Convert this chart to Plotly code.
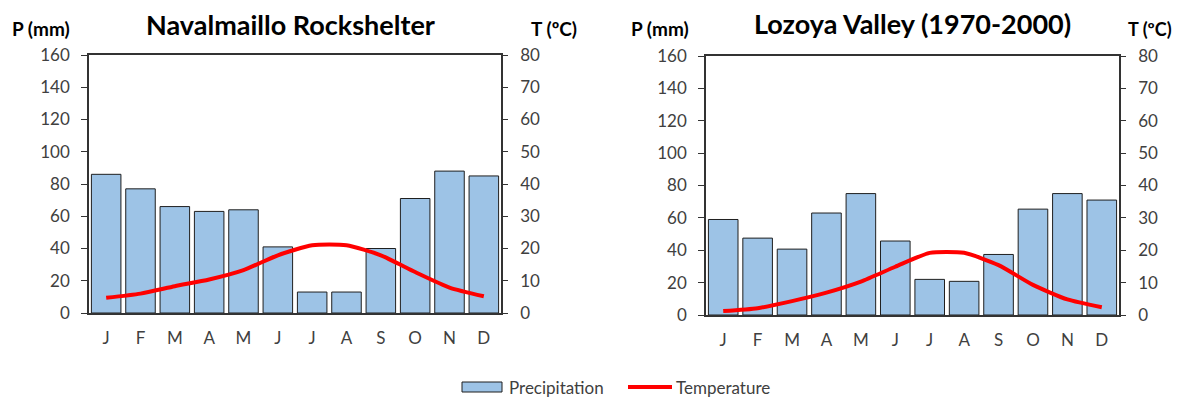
import plotly.graph_objects as go

months = ["J", "F", "M", "A", "M", "J", "J", "A", "S", "O", "N", "D"]
month_ids = list(range(12))

nav_precip = [86, 77, 66, 63, 64, 41, 13, 13, 40, 71, 88, 85]
nav_temp = [4.7, 6.0, 8.3, 10.4, 13.3, 17.9, 21.0, 21.0, 17.9, 12.7, 7.9, 5.2]

loz_precip = [59, 47.5, 40.7, 63, 75, 45.7, 22, 20.8, 37.4, 65.4, 75, 71]
loz_temp = [1.2, 2.1, 4.3, 6.9, 10.3, 14.9, 19.2, 19.2, 15.4, 9.3, 4.8, 2.4]

titles = ["Navalmaillo Rockshelter", "Lozoya Valley (1970-2000)"]
series_names = ["Precipitation", "Temperature"]

# page geometry: the body has an 8px margin, so the figure sits at (8, 8)
OFF = 8
W, H = 1183 - OFF, 397 - OFF
FONT = "Lato, Carlito, Calibri, sans-serif"
BAR_COLOR = "#9DC3E6"
LINE_COLOR = "#FF0000"
TEXT_COLOR = "#404040"


def px_x(x):
    return (x - OFF) / W


def px_y(y):
    return 1 - (y - OFF) / H


fig = go.Figure()

panels = [
    dict(prec=nav_precip, temp=nav_temp, x0=89, x1=501, y0=55, y1=313, xa="x", ya="y", ya2="y2"),
    dict(prec=loz_precip, temp=loz_temp, x0=706, x1=1119, y0=56, y1=315, xa="x2", ya="y3", ya2="y4"),
]

for i, p in enumerate(panels):
    fig.add_trace(go.Bar(
        x=month_ids, y=p["prec"], xaxis=p["xa"], yaxis=p["ya"],
        marker=dict(color=BAR_COLOR, line=dict(color="#1f1f1f", width=1)),
        name=series_names[0], showlegend=False,
    ))
    fig.add_trace(go.Scatter(
        x=month_ids, y=p["temp"], xaxis=p["xa"], yaxis=p["ya2"],
        mode="lines", line=dict(color=LINE_COLOR, width=4, shape="spline", smoothing=0.6),
        name=series_names[1], showlegend=False,
    ))

axis_font = dict(family=FONT, size=17, color=TEXT_COLOR)

layout = dict(
    width=W, height=H,
    margin=dict(l=0, r=0, t=0, b=0, autoexpand=False),
    paper_bgcolor="white", plot_bgcolor="white",
    bargap=0.14,
    showlegend=False,
    annotations=[],
    shapes=[],
)

for i, p in enumerate(panels):
    xkey = "xaxis" if i == 0 else "xaxis2"
    ykey = "yaxis" if i == 0 else "yaxis3"
    y2key = "yaxis2" if i == 0 else "yaxis4"
    ydom = [px_y(p["y1"]), px_y(p["y0"])]
    layout[xkey] = dict(
        domain=[px_x(p["x0"]), px_x(p["x1"])], anchor=p["ya"],
        range=[-0.5, 11.5], tickmode="array", tickvals=month_ids, ticktext=months,
        showline=True, linecolor="#333333", linewidth=1.5, mirror=True,
        ticks="", tickfont=axis_font, showgrid=False, zeroline=False,
        ticklabelstandoff=9,
    )
    layout[ykey] = dict(
        domain=ydom, anchor=p["xa"], range=[0, 160], dtick=20,
        showline=True, linecolor="#333333", linewidth=1.5,
        ticks="outside", ticklen=6, tickcolor="#333333",
        tickfont=axis_font, showgrid=False, zeroline=False, ticklabelstandoff=8,
    )
    layout[y2key] = dict(
        domain=ydom, anchor=p["xa"], overlaying=p["ya"], side="right", range=[0, 80], dtick=10,
        showline=True, linecolor="#333333", linewidth=1.5,
        ticks="outside", ticklen=5, tickcolor="#333333",
        tickfont=axis_font, showgrid=False, zeroline=False, ticklabelstandoff=9,
    )

title_centers = [(290, 25), (912, 24)]
pmm_pos = [(41, 29), (660, 29)]
tc_pos = [(554, 29), (1150, 29)]

for i in range(2):
    cx, cy = title_centers[i]
    layout["annotations"].append(dict(
        text="<b>" + titles[i] + "</b>", x=px_x(cx), y=px_y(cy), xref="paper", yref="paper",
        xanchor="center", yanchor="middle", showarrow=False,
        font=dict(family=FONT, size=27, color="#000000"),
    ))
    px, py = pmm_pos[i]
    layout["annotations"].append(dict(
        text="<b>P (mm)</b>", x=px_x(px), y=px_y(py), xref="paper", yref="paper",
        xanchor="center", yanchor="middle", showarrow=False,
        font=dict(family=FONT, size=19, color="#000000"),
    ))
    tx, ty = tc_pos[i]
    layout["annotations"].append(dict(
        text="<b>T (ºC)</b>", x=px_x(tx), y=px_y(ty), xref="paper", yref="paper",
        xanchor="center", yanchor="middle", showarrow=False,
        font=dict(family=FONT, size=18 if i == 1 else 19, color="#000000"),
    ))

# custom legend (wide swatch like the original)
LEG_Y = 387
layout["shapes"].append(dict(
    type="rect", xref="paper", yref="paper",
    x0=px_x(462), x1=px_x(502), y0=px_y(392), y1=px_y(382),
    fillcolor=BAR_COLOR, line=dict(color="#1f1f1f", width=1),
))
layout["shapes"].append(dict(
    type="line", xref="paper", yref="paper",
    x0=px_x(628), x1=px_x(672), y0=px_y(LEG_Y), y1=px_y(LEG_Y),
    line=dict(color=LINE_COLOR, width=4),
))
layout["annotations"].append(dict(
    text=series_names[0], x=px_x(507), y=px_y(LEG_Y), xref="paper", yref="paper",
    xanchor="left", yanchor="middle", showarrow=False,
    font=dict(family=FONT, size=17, color=TEXT_COLOR),
))
layout["annotations"].append(dict(
    text=series_names[1], x=px_x(674), y=px_y(LEG_Y), xref="paper", yref="paper",
    xanchor="left", yanchor="middle", showarrow=False,
    font=dict(family=FONT, size=17, color=TEXT_COLOR),
))

fig.update_layout(**layout)
fig.write_html("out.html")
